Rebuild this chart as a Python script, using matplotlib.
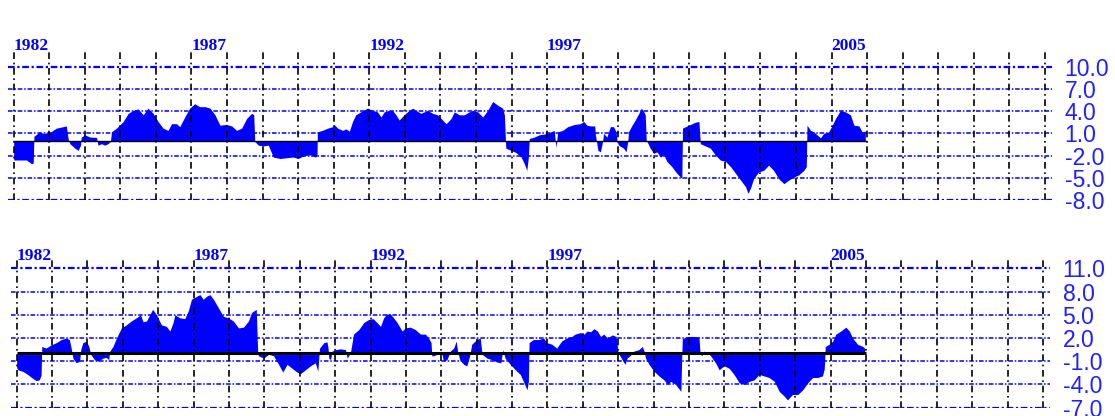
import matplotlib
matplotlib.use('Agg')
import matplotlib.pyplot as plt

# upper series (year, value)
top_years = [1982.00, 1982.17, 1982.36, 1982.50, 1982.55, 1982.57, 1982.73, 1982.83, 1983.01, 1983.20,
             1983.39, 1983.48, 1983.53, 1983.58, 1983.72, 1983.81, 1983.88, 1983.90, 1984.00, 1984.14,
             1984.33, 1984.37, 1984.47, 1984.56, 1984.65, 1984.72, 1984.75, 1984.89, 1985.08, 1985.22,
             1985.36, 1985.50, 1985.64, 1985.78, 1985.92, 1986.06, 1986.20, 1986.34, 1986.44, 1986.58,
             1986.67, 1986.81, 1986.95, 1987.09, 1987.23, 1987.38, 1987.52, 1987.66, 1987.80, 1987.98,
             1988.13, 1988.27, 1988.41, 1988.55, 1988.69, 1988.75, 1988.78, 1988.88, 1989.02, 1989.16,
             1989.30, 1989.49, 1989.67, 1989.86, 1990.00, 1990.17, 1990.36, 1990.47, 1990.53, 1990.54,
             1990.68, 1990.83, 1990.97, 1991.01, 1991.11, 1991.25, 1991.34, 1991.44, 1991.53, 1991.62,
             1991.76, 1991.95, 1992.09, 1992.23, 1992.33, 1992.42, 1992.56, 1992.65, 1992.75, 1992.84,
             1992.98, 1993.12, 1993.22, 1993.31, 1993.45, 1993.64, 1993.78, 1993.92, 1994.06, 1994.16,
             1994.30, 1994.39, 1994.53, 1994.67, 1994.81, 1994.91, 1995.05, 1995.19, 1995.33, 1995.47,
             1995.61, 1995.75, 1995.80, 1995.83, 1995.84, 1995.98, 1996.13, 1996.27, 1996.36, 1996.43,
             1996.47, 1996.50, 1996.64, 1996.78, 1996.92, 1997.06, 1997.20, 1997.25, 1997.30, 1997.44,
             1997.58, 1997.77, 1997.93, 1998.03, 1998.12, 1998.22, 1998.34, 1998.36, 1998.43, 1998.50,
             1998.56, 1998.59, 1998.68, 1998.78, 1998.87, 1998.94, 1998.97, 1999.01, 1999.15, 1999.22,
             1999.27, 1999.29, 1999.39, 1999.48, 1999.58, 1999.65, 1999.72, 1999.76, 1999.79, 1999.81,
             1999.90, 2000.00, 2000.09, 2000.19, 2000.28, 2000.37, 2000.51, 2000.65, 2000.79, 2000.81,
             2000.94, 2001.08, 2001.17, 2001.27, 2001.31, 2001.45, 2001.59, 2001.73, 2001.87, 2002.02,
             2002.16, 2002.30, 2002.44, 2002.58, 2002.65, 2002.72, 2002.81, 2002.95, 2003.09, 2003.23,
             2003.37, 2003.51, 2003.66, 2003.80, 2003.94, 2004.08, 2004.22, 2004.29, 2004.31, 2004.41,
             2004.50, 2004.59, 2004.69, 2004.78, 2004.92, 2005.02, 2005.11, 2005.25, 2005.39, 2005.53,
             2005.63, 2005.77, 2005.86, 2005.95]
top_vals = [-2.6, -2.6, -2.6, -3.1, -3.0, 0.6, 1.2, 1.0, 1.1, 1.7,
            1.9, 2.0, 0.3, -0.4, -1.0, -1.3, -0.6, 0.5, 0.8, 0.5,
            0.45, -0.6, -0.4, -0.6, -0.4, -0.1, 1.2, 1.7, 2.6, 3.7,
            4.1, 4.3, 3.5, 4.4, 3.7, 2.6, 1.7, 1.4, 2.3, 2.3,
            1.9, 3.2, 4.4, 5.0, 4.6, 4.6, 4.4, 3.5, 2.1, 2.2,
            2.0, 1.4, 1.7, 3.0, 3.7, 3.5, -0.1, -0.6, -0.7, -0.6,
            -2.2, -2.4, -2.3, -2.2, -2.4, -2.0, -1.9, -2.2, -2.1, 1.2,
            1.4, 1.7, 1.9, 2.2, 1.7, 1.4, 1.6, 1.3, 2.6, 3.5,
            3.9, 4.4, 4.1, 3.9, 3.2, 3.9, 4.1, 4.1, 3.5, 2.8,
            3.5, 4.1, 4.4, 4.1, 3.7, 4.1, 3.7, 3.5, 2.8, 2.3,
            3.0, 3.9, 3.5, 3.5, 3.9, 4.1, 3.9, 3.2, 4.1, 5.3,
            4.8, 4.4, 3.5, -0.1, -1.0, -1.3, -1.6, -2.2, -3.1, -4.0,
            -2.4, 0.3, 0.5, 0.8, 0.9, 1.1, 1.4, -0.9, 1.2, 1.4,
            1.9, 2.2, 2.3, 2.6, 2.1, 2.0, 2.0, 0.8, -1.3, -1.5,
            -0.1, 1.0, 0.5, 1.9, 1.9, 1.2, -0.1, -0.6, -1.0, -1.5,
            -0.1, 1.2, 2.1, 2.8, 3.7, 4.4, 3.9, 3.5, 0.0, -0.1,
            -1.0, -1.7, -1.5, -2.2, -1.9, -2.8, -3.5, -4.4, -5.1, 1.7,
            2.0, 2.3, 2.5, 2.6, -0.4, -0.7, -1.0, -1.9, -2.6, -2.8,
            -3.5, -4.4, -5.3, -6.2, -7.1, -6.4, -5.1, -4.2, -4.0, -3.3,
            -4.0, -5.1, -5.8, -5.3, -4.9, -4.6, -4.0, -3.5, 2.1, 1.4,
            1.2, 0.8, 0.4, 1.0, 1.2, 2.1, 3.0, 4.1, 3.9, 3.5,
            2.1, 2.0, 1.2, 1.3]

# lower series (year, value)
bot_years = [1982.00, 1982.03, 1982.17, 1982.31, 1982.45, 1982.55, 1982.64, 1982.69, 1982.71, 1982.83,
             1982.97, 1983.12, 1983.26, 1983.40, 1983.49, 1983.54, 1983.59, 1983.68, 1983.78, 1983.81,
             1983.87, 1983.97, 1984.04, 1984.09, 1984.20, 1984.30, 1984.44, 1984.53, 1984.60, 1984.63,
             1984.72, 1984.82, 1984.96, 1985.10, 1985.24, 1985.38, 1985.50, 1985.57, 1985.67, 1985.76,
             1985.84, 1985.95, 1986.09, 1986.23, 1986.33, 1986.42, 1986.47, 1986.61, 1986.75, 1986.85,
             1986.94, 1987.09, 1987.18, 1987.27, 1987.37, 1987.46, 1987.56, 1987.70, 1987.84, 1987.98,
             1988.12, 1988.27, 1988.41, 1988.55, 1988.64, 1988.77, 1988.81, 1988.83, 1988.98, 1989.12,
             1989.26, 1989.40, 1989.52, 1989.64, 1989.78, 1989.92, 1990.02, 1990.16, 1990.30, 1990.44,
             1990.51, 1990.55, 1990.56, 1990.68, 1990.77, 1990.80, 1990.82, 1990.87, 1990.91, 1991.01,
             1991.15, 1991.29, 1991.34, 1991.43, 1991.52, 1991.67, 1991.81, 1991.95, 1992.07, 1992.18,
             1992.28, 1992.37, 1992.46, 1992.56, 1992.65, 1992.75, 1992.89, 1992.98, 1993.12, 1993.26,
             1993.41, 1993.55, 1993.64, 1993.71, 1993.73, 1993.78, 1993.88, 1993.97, 1994.02, 1994.06,
             1994.16, 1994.25, 1994.35, 1994.42, 1994.46, 1994.52, 1994.63, 1994.72, 1994.80, 1994.86,
             1995.00, 1995.10, 1995.15, 1995.29, 1995.43, 1995.57, 1995.68, 1995.74, 1995.80, 1995.95,
             1996.09, 1996.23, 1996.32, 1996.42, 1996.46, 1996.48, 1996.60, 1996.75, 1996.89, 1996.98,
             1997.12, 1997.26, 1997.40, 1997.54, 1997.69, 1997.78, 1997.93, 1998.03, 1998.12, 1998.22,
             1998.31, 1998.41, 1998.50, 1998.59, 1998.69, 1998.83, 1998.94, 1998.99, 1999.02, 1999.11,
             1999.19, 1999.25, 1999.35, 1999.44, 1999.58, 1999.68, 1999.73, 1999.77, 1999.87, 2000.01,
             2000.15, 2000.29, 2000.39, 2000.48, 2000.62, 2000.77, 2000.79, 2000.81, 2000.95, 2001.14,
             2001.28, 2001.31, 2001.36, 2001.42, 2001.52, 2001.61, 2001.75, 2001.85, 2001.99, 2002.13,
             2002.27, 2002.42, 2002.56, 2002.70, 2002.84, 2002.98, 2003.12, 2003.26, 2003.41, 2003.55,
             2003.69, 2003.78, 2003.92, 2004.07, 2004.21, 2004.35, 2004.49, 2004.63, 2004.77, 2004.82,
             2004.85, 2004.96, 2005.06, 2005.15, 2005.29, 2005.43, 2005.53, 2005.62, 2005.76, 2005.91,
             2005.96]
bot_vals = [-1.8, -2.1, -2.3, -2.7, -3.2, -3.5, -3.4, -2.8, 0.9, 0.7,
            1.1, 1.4, 1.8, 2.0, 1.8, 0.7, -0.6, -1.2, -1.0, 0.5,
            1.4, 1.6, 0.9, -0.1, -0.8, -1.0, -0.6, -0.5, -0.8, 0.3,
            0.9, 2.0, 3.3, 3.7, 4.2, 4.6, 5.0, 4.1, 4.2, 5.0,
            5.7, 5.0, 3.7, 3.5, 2.9, 4.0, 5.0, 4.6, 4.5, 5.5,
            7.0, 7.4, 7.6, 7.0, 7.4, 7.6, 7.0, 5.9, 4.8, 4.6,
            4.2, 3.3, 3.4, 4.2, 5.3, 5.7, 0.3, -0.3, -0.6, -0.1,
            -0.3, -1.4, -2.4, -1.4, -1.9, -2.4, -2.6, -2.1, -1.6, -1.2,
            -2.3, 0.3, 0.7, 1.4, 1.5, 0.7, -0.6, -0.8, 0.3, 0.5,
            0.6, 0.5, -0.6, 0.1, 2.5, 3.1, 4.0, 4.4, 4.5, 4.0,
            3.5, 4.6, 5.1, 5.1, 4.6, 4.0, 2.9, 3.3, 3.4, 3.1,
            2.5, 2.5, 2.0, 1.4, -0.3, -0.3, -0.1, 0.1, -0.1, -1.0,
            -0.8, 0.3, 0.7, 1.6, 0.3, -0.8, -1.4, -1.6, -0.3, 1.2,
            1.8, 2.0, -0.1, -0.6, -0.8, -1.1, -1.2, 0.5, -0.6, -1.4,
            -2.1, -2.7, -3.6, -4.7, -3.6, 1.4, 1.8, 1.8, 2.0, 1.4,
            1.2, 0.7, 1.6, 2.0, 2.2, 2.5, 2.7, 2.5, 2.9, 2.8,
            3.2, 2.9, 2.2, 2.5, 2.0, 2.4, 2.2, 0.3, -0.1, -0.8,
            -1.4, -0.6, -0.2, 0.3, 0.5, 0.9, 0.3, -0.6, -1.4, -2.3,
            -2.9, -3.4, -4.0, -3.6, -4.0, -4.9, -1.0, 1.9, 2.2, 2.2,
            2.1, 0.1, -0.3, 0.3, 0.1, -0.3, -1.2, -2.1, -1.6, -1.9,
            -2.7, -3.8, -4.0, -3.6, -3.4, -2.7, -2.9, -3.1, -3.6, -4.9,
            -5.5, -6.0, -5.3, -5.3, -4.7, -3.8, -3.1, -3.1, -2.9, -2.0,
            0.9, 1.2, 1.6, 2.5, 2.9, 3.4, 2.9, 2.0, 1.2, 0.9,
            0.7]

top_ticks = [10.0, 7.0, 4.0, 1.0, -2.0, -5.0, -8.0]
bot_ticks = [11.0, 8.0, 5.0, 2.0, -1.0, -4.0, -7.0]
year_grid = list(range(1982, 2012))
year_labels = [1982, 1987, 1992, 1997, 2005]

blue = '#0000ff'
hdash = (0, (3, 1.2, 1, 1.2))
vdash = (0, (4, 2.2, 1, 2.2))
W, H = 1115, 416
fig = plt.figure(figsize=(W / 100, H / 100), dpi=100)


def panel(rect, years, vals, yticks, ylim, zero_lw):
    ax = fig.add_axes(rect)
    ax.fill_between(years, vals, 0, color=blue, lw=0, zorder=1)
    ax.hlines(0, 1982, 2006, color='k', lw=zero_lw, zorder=4)
    for y in yticks:
        lw = 1.6 if y in (yticks[0], yticks[-1]) else 1.1
        ax.axhline(y, color=blue, lw=lw, ls=hdash, zorder=3)
    for yr in year_grid:
        ax.axvline(yr, color='k', lw=1.2, ls=vdash, zorder=3)
    ax.set_xlim(1981.84, 2011.2)
    ax.set_ylim(*ylim)
    ax.set_xticks([])
    ax.yaxis.tick_right()
    ax.set_yticks(yticks)
    ax.set_yticklabels(['%.1f' % t for t in yticks], family='Liberation Sans',
                       fontsize=16.5, color='#2020ff')
    ax.tick_params(axis='y', length=0, pad=9)
    for lab in ax.get_yticklabels():
        lab.set_horizontalalignment('left')
    for s in ax.spines.values():
        s.set_visible(False)
    for yr in year_labels:
        ax.text(yr, 1.0, str(yr), transform=ax.get_xaxis_transform(),
                ha='left', va='baseline', family='Liberation Serif',
                fontweight='bold', fontsize=12.5, color=blue)
    return ax


panel([8 / W, 1 - 200 / H, 1044 / W, 150 / H], top_years, top_vals,
      top_ticks, (-8.0, 12.25), 1.0)
panel([11 / W, 1 - 407.7 / H, 1039 / W, 147.7 / H], bot_years, bot_vals,
      bot_ticks, (-7.0, 12.07), 2.2)

fig.savefig('out.png', dpi=100)
